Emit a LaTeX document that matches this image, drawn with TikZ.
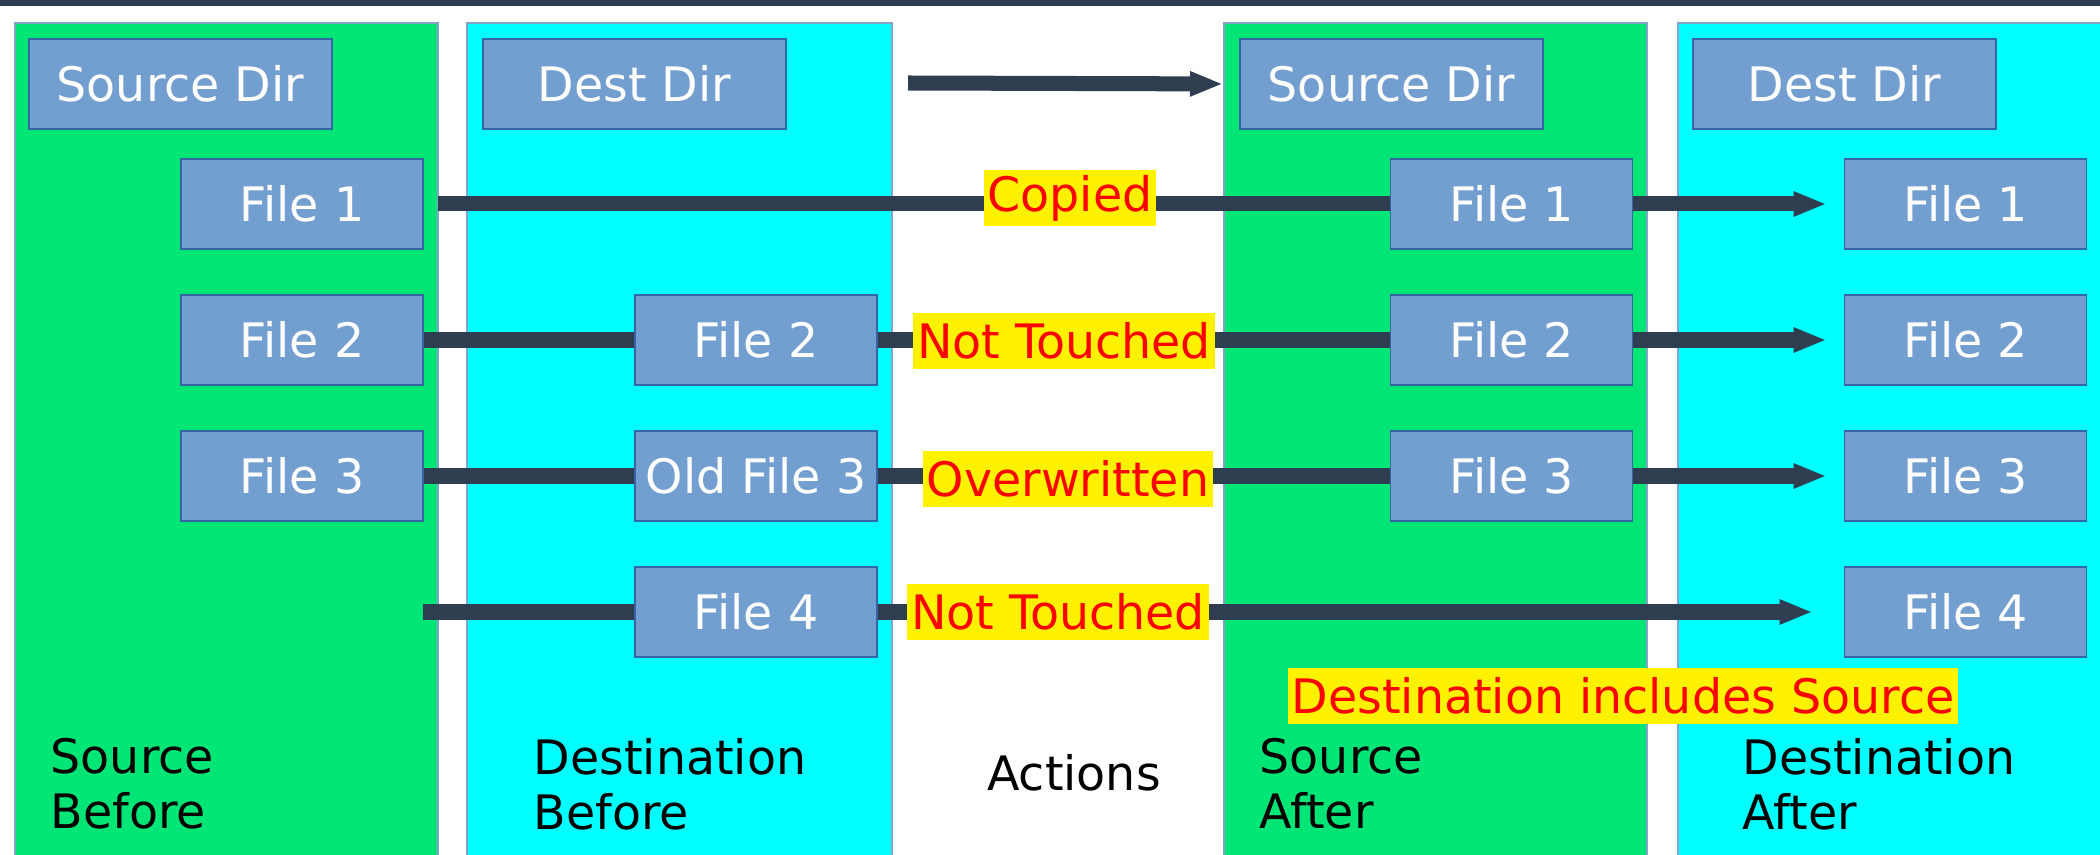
\documentclass[tikz,border=0pt]{standalone}
\usepackage{fontspec}
\setmainfont{DejaVu Sans}
\usetikzlibrary{arrows.meta}

\definecolor{bar}{RGB}{46,62,80}
\definecolor{srcgreen}{RGB}{0,230,118}
\definecolor{dstcyan}{RGB}{0,255,255}
\definecolor{filebox}{RGB}{114,159,207}
\definecolor{fileedge}{RGB}{52,101,164}
\definecolor{tagyellow}{RGB}{255,242,0}

\begin{document}
\begin{tikzpicture}[x=0.01cm, y=-0.01cm,
    font=\fontsize{13.5}{15.6}\selectfont,
    panel/.style={draw=fileedge!60, line width=0.4pt},
    file/.style={rectangle, fill=filebox, draw=fileedge, line width=0.5pt, text=white,
        minimum width=2.42cm, minimum height=0.9cm, inner sep=0pt},
    dirbox/.style={file, minimum width=3.03cm},
    tag/.style={fill=tagyellow, text=red, inner xsep=0.04cm, inner ysep=0pt, minimum height=0.56cm},
    caption/.style={anchor=west, align=left, text=black, inner sep=0pt},
    link/.style={color=bar, line width=0.15cm},
    flow/.style={link, -{Triangle[length=0.33cm, width=0.23cm]}}
]
    \useasboundingbox (0,0) rectangle (2100,855);
    \fill[bar] (0,0) rectangle (2100,6);

    % the four columns
    \filldraw[panel, fill=srcgreen] (15,23) rectangle (438,860);
    \filldraw[panel, fill=dstcyan] (467,23) rectangle (892,860);
    \filldraw[panel, fill=srcgreen] (1224,23) rectangle (1647,860);
    \filldraw[panel, fill=dstcyan] (1678,23) rectangle (2110,860);

    \node[dirbox] (srcdir) at (180.5,84) {Source Dir};
    \node[dirbox] (dstdir) at (634.5,84) {Dest Dir};
    \node[dirbox] (srcdir2) at (1391.5,84) {Source Dir};
    \node[dirbox] (dstdir2) at (1844.5,84) {Dest Dir};

    % before
    \node[file] (sb1) at (302,204) {File 1};
    \node[file] (sb2) at (302,340) {File 2};
    \node[file] (sb3) at (302,476) {File 3};
    \node[file] (db2) at (756,340) {File 2};
    \node[file] (db3) at (756,476) {Old File 3};
    \node[file] (db4) at (756,612) {File 4};

    % after
    \node[file] (sa1) at (1511.5,204) {File 1};
    \node[file] (sa2) at (1511.5,340) {File 2};
    \node[file] (sa3) at (1511.5,476) {File 3};
    \node[file] (da1) at (1965.5,204) {File 1};
    \node[file] (da2) at (1965.5,340) {File 2};
    \node[file] (da3) at (1965.5,476) {File 3};
    \node[file] (da4) at (1965.5,612) {File 4};

    \coordinate (topstart) at (908,83);
    \coordinate (edge1) at (438,204);
    \coordinate (edge4) at (423,612);

    \draw[flow, shorten >=0.16cm] (topstart) -- (srcdir2.west);
    \draw[link] (edge1) -- (sa1.west);
    \draw[link] (sb2.east) -- (db2.west);
    \draw[link] (db2.east) -- (sa2.west);
    \draw[link] (sb3.east) -- (db3.west);
    \draw[link] (db3.east) -- (sa3.west);
    \draw[link] (edge4) -- (db4.west);
    \draw[flow, shorten >=0.31cm] (db4.east) -- (da4.west);
    \draw[flow, shorten >=0.17cm] (sa1.east) -- (da1.west);
    \draw[flow, shorten >=0.17cm] (sa2.east) -- (da2.west);
    \draw[flow, shorten >=0.17cm] (sa3.east) -- (da3.west);

    \node[tag] (copied) at (1070,198) {Copied};
    \node[tag] (keep2) at (1064,341) {Not Touched};
    \node[tag] (over3) at (1068,479) {Overwritten};
    \node[tag] (keep4) at (1058,612) {Not Touched};
    \node[tag] (incl) at (1623,696) {Destination includes Source};

    \node[caption] (srcbefore) at (50,784) {Source\\Before};
    \node[caption] (dstbefore) at (533,784) {Destination\\Before};
    \node[inner sep=0pt] (actions) at (1074,773) {Actions};
    \node[caption] (srcafter) at (1259,784) {Source\\After};
    \node[caption] (dstafter) at (1742,784) {Destination\\After};
\end{tikzpicture}
\end{document}
